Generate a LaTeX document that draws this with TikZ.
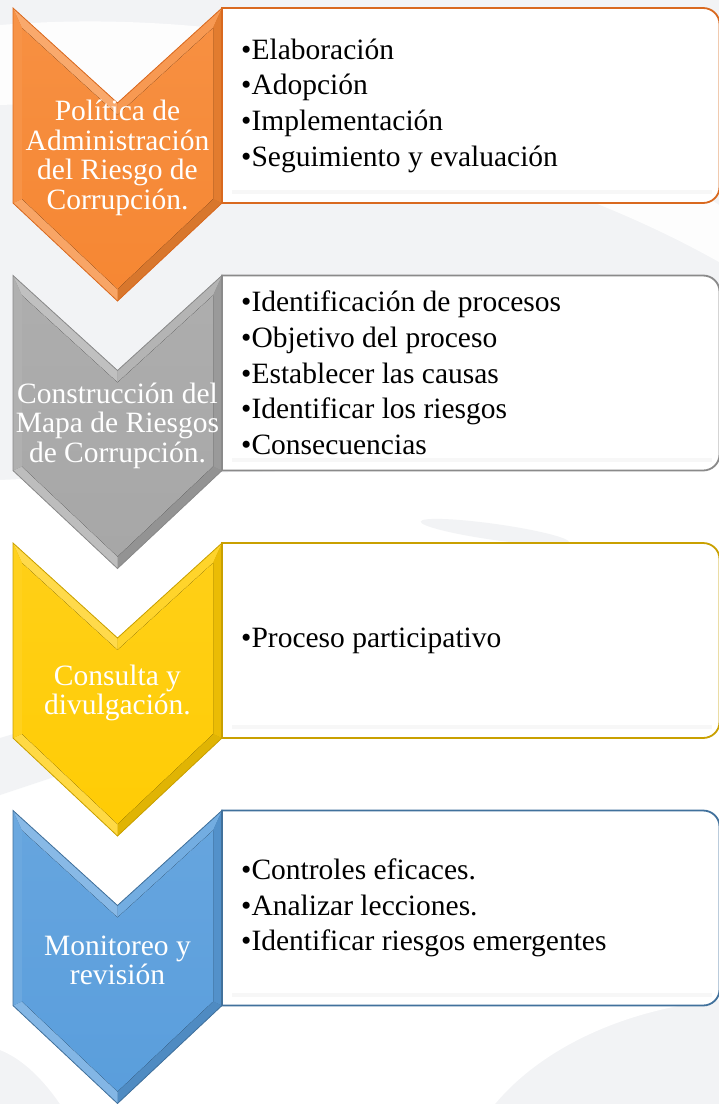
\documentclass[tikz,border=0pt]{standalone}
\usepackage{fontspec}
\setmainfont{Liberation Serif}
\definecolor{bgc}{HTML}{F2F3F5}
\definecolor{orm}{HTML}{F68733}
\definecolor{ord}{HTML}{D9691F}
\definecolor{grm}{HTML}{A7A7A7}
\definecolor{grd}{HTML}{8A8A8A}
\definecolor{yem}{HTML}{FFCC05}
\definecolor{yed}{HTML}{C9A000}
\definecolor{blm}{HTML}{5A9EDC}
\definecolor{bld}{HTML}{41719C}
\tikzset{
  chevtext/.style={text=white, align=center, inner sep=0pt,
    font=\fontsize{29.5}{29.5}\selectfont},
  boxtext/.style={text=black, align=left, inner sep=0pt, anchor=west,
    font=\fontsize{29.5}{35.7}\selectfont},
}
\newcommand\stepitem[6]{%
\begin{scope}[shift={(0,#1)}]
  % chevron
  \fill[#3] (13,0) -- (117.5,95) -- (222,0) -- (222,195) -- (117.5,293) -- (13,195) -- cycle;
  \fill[#2!72!white] (13,0) -- (117.5,95) -- (117.5,107) -- (22,20) -- cycle;
  \fill[#2!85!white] (117.5,95) -- (222,0) -- (213,20) -- (117.5,107) -- cycle;
  \fill[#2!92!black] (222,0) -- (222,195) -- (213,191) -- (213,20) -- cycle;
  \fill[#2!88!black] (222,195) -- (117.5,293) -- (117.5,281) -- (213,191) -- cycle;
  \fill[#2!75!white] (117.5,293) -- (13,195) -- (22,191) -- (117.5,281) -- cycle;
  \fill[#2!90!white] (13,195) -- (13,0) -- (22,20) -- (22,191) -- cycle;
  \fill[top color=#2!93!white, bottom color=#2] (22,20) -- (117.5,107) -- (213,20) -- (213,191) -- (117.5,281) -- (22,191) -- cycle;
  \draw[#3, line width=0.8] (13,0) -- (117.5,95) -- (222,0) -- (222,195) -- (117.5,293) -- (13,195) -- cycle;
  \node[chevtext] (#6c) at (117.5,150) {#4};
  % box
  \draw[draw=#3, line width=1.8, fill=white] (222,0) -- (703,0) .. controls (712,0) and (719.5,7) .. (719.5,16) -- (719.5,179) .. controls (719.5,188) and (712,195) .. (703,195) -- (222,195) -- cycle;
  \fill[black!3] (232,182) rectangle (712,186);
  \node[boxtext] (#6t) at (241,97.5) {#5};
\end{scope}}
\begin{document}
\begin{tikzpicture}[x=1pt,y=-1pt]
\useasboundingbox (0,0) rectangle (719,1104);
\fill[bgc] (0,0) rectangle (719,1104);
% background swooshes
\fill[white, opacity=0.85] (0,25) .. controls (250,5) and (520,70) .. (719,205) -- (719,262) .. controls (520,150) and (250,95) .. (0,105) -- cycle;
\fill[white] (0,480) .. controls (250,468) and (500,470) .. (719,462) -- (719,1000) .. controls (620,1010) and (540,1050) .. (495,1104) -- (60,1104) .. controls (40,1075) and (20,1058) .. (0,1050) -- cycle;
\fill[bgc] (0,738) -- (60,720) -- (60,775) -- (0,795) -- cycle;
\fill[bgc, rotate around={-8:(495,532)}] (495,532) ellipse (75 and 8);
% steps
\stepitem{8}{orm}{ord}{Política de\\Administración\\del Riesgo de\\Corrupción.}{•Elaboración\\•Adopción\\•Implementación\\•Seguimiento y evaluación}{s1}
\stepitem{275.5}{grm}{grd}{Construcción del\\Mapa de Riesgos\\de Corrupción.}{•Identificación de procesos\\•Objetivo del proceso\\•Establecer las causas\\•Identificar los riesgos\\•Consecuencias}{s2}
\stepitem{543}{yem}{yed}{Consulta y\\divulgación.}{•Proceso participativo}{s3}
\stepitem{810.5}{blm}{bld}{Monitoreo y\\revisión}{•Controles eficaces.\\•Analizar lecciones.\\•Identificar riesgos emergentes}{s4}
\end{tikzpicture}
\end{document}
